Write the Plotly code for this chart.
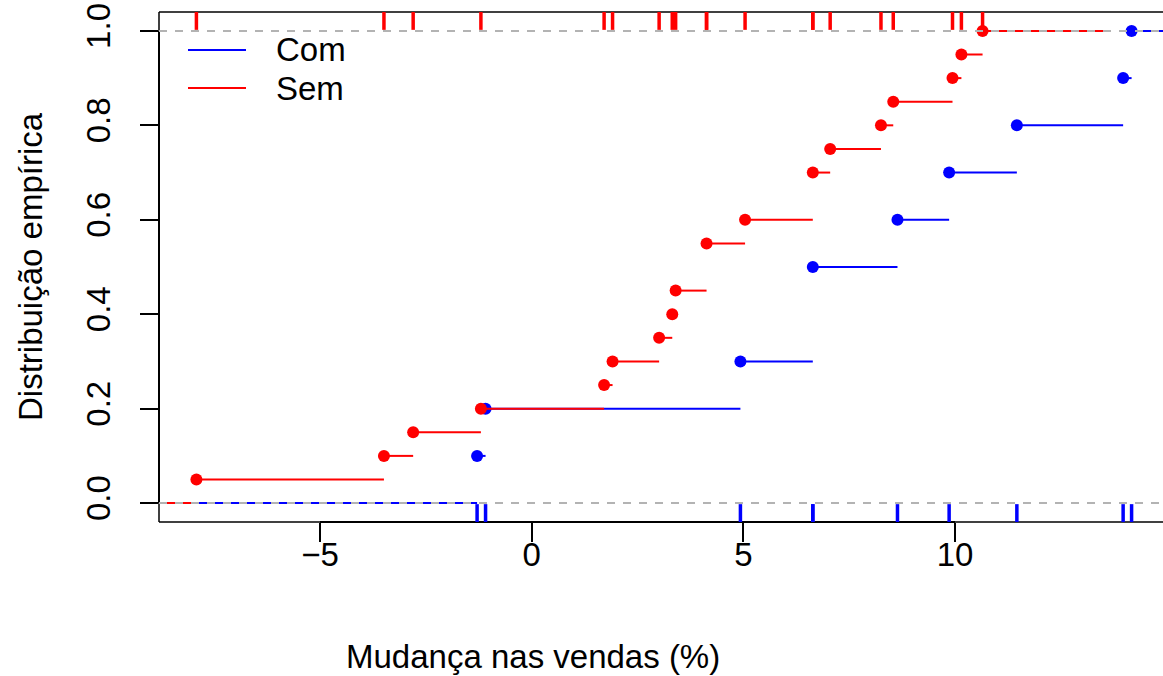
import numpy as np
import plotly.graph_objects as go

# ---------------- data ----------------
com = [-1.29, -1.09, 4.93, 6.64, 6.64, 8.64, 9.86, 11.46, 13.97, 14.17]
sem = [-7.92, -3.49, -2.80, -1.20, 1.71, 1.91, 3.01, 3.32, 3.40, 4.13, 4.13,
       5.04, 6.64, 6.64, 7.05, 8.25, 8.54, 9.94, 10.15, 10.65]
series_names = ["Com", "Sem"]
series_colors = ["blue", "red"]
x_ticks = [-5, 0, 5, 10]
x_ticklabels = ["\u22125", "0", "5", "10"]
y_ticks = [0.0, 0.2, 0.4, 0.6, 0.8, 1.0]
y_ticklabels = ["0.0", "0.2", "0.4", "0.6", "0.8", "1.0"]
x_title = "Mudança nas vendas (%)"
y_title = "Distribuição empírica"

FONT = "Liberation Sans, Arial, sans-serif"
FS = 33


def ecdf(v):
    v = np.sort(np.asarray(v, float))
    u, counts = np.unique(v, return_counts=True)
    return u, np.cumsum(counts) / len(v)


def step_xy(u, F, lo, hi):
    knots = [lo] + list(u) + [hi]
    levels = [0.0] + list(F)
    xs, ys = [], []
    for i, lev in enumerate(levels):
        xs += [knots[i], knots[i + 1], None]
        ys += [lev, lev, None]
    return xs, ys


# main plot xlim = range of all data
allv = np.array(com + sem)
xlim_main = [allv.min(), allv.max()]
d_main = xlim_main[1] - xlim_main[0]
usr = [xlim_main[0] - 0.04 * d_main, xlim_main[1] + 0.04 * d_main]

# blue: explicit xlim -> segments extend by diff(xlim)
u_c, F_c = ecdf(com)
lo_c, hi_c = xlim_main[0] - d_main, xlim_main[1] + d_main
# red: added with the default xlim rule of a step function plot
u_s, F_s = ecdf(sem)
rx = [u_s.min(), u_s.max()]
dr = max(0.08 * (rx[1] - rx[0]), float(np.median(np.diff(u_s))))
lo_s, hi_s = rx[0] - 2 * dr, rx[1] + 2 * dr

W, H = 1163, 676
L, R, T, B = 159, 0, 12, 154
plot_w_full = 1010  # plot region continues a few px past the canvas
x_range = [usr[0], usr[0] + (usr[1] - usr[0]) * (W - L) / plot_w_full]
y_range = [-0.04, 1.04]
PH = H - T - B
PW = W - L - R

fig = go.Figure()

for (u, F), (lo, hi), name, col in [
    ((u_c, F_c), (lo_c, hi_c), series_names[0], series_colors[0]),
    ((u_s, F_s), (lo_s, hi_s), series_names[1], series_colors[1]),
]:
    xs, ys = step_xy(u, F, lo, hi)
    fig.add_trace(go.Scatter(x=xs, y=ys, mode="lines", name=name,
                             line=dict(color=col, width=2), showlegend=False,
                             hoverinfo="skip"))
    fig.add_trace(go.Scatter(x=u, y=F, mode="markers", showlegend=False, name=name,
                             marker=dict(color=col, size=12)))

# 0/1 reference lines (gray70, dashed)
for yv in (0, 1):
    fig.add_trace(go.Scatter(x=[x_range[0], x_range[1]], y=[yv, yv], mode="lines",
                             showlegend=False, hoverinfo="skip",
                             line=dict(color="#B3B3B3", width=2, dash="8px,8px")))

# rugs
tick = 0.035 * (y_range[1] - y_range[0])
for vals, col, side in [(com, series_colors[0], 1), (sem, series_colors[1], 3)]:
    xs, ys = [], []
    for v in vals:
        if side == 1:
            xs += [v, v, None]; ys += [y_range[0], y_range[0] + tick, None]
        else:
            xs += [v, v, None]; ys += [y_range[1], y_range[1] - tick, None]
    fig.add_trace(go.Scatter(x=xs, y=ys, mode="lines", showlegend=False,
                             hoverinfo="skip", cliponaxis=False,
                             line=dict(color=col, width=3.5)))

shapes = [
    # box
    dict(type="line", xref="paper", yref="paper", x0=0, x1=1, y0=1, y1=1,
         line=dict(color="black", width=1.5), layer="below"),
    dict(type="line", xref="paper", yref="paper", x0=0, x1=0, y0=0, y1=1,
         line=dict(color="black", width=1.5), layer="below"),
    dict(type="line", xref="paper", yref="paper", x0=0, x1=1, y0=0, y1=0,
         line=dict(color="black", width=1.5), layer="below"),
    # axis lines (first to last tick)
    dict(type="line", xref="x", yref="paper", x0=x_ticks[0], x1=x_ticks[-1], y0=0, y1=0,
         line=dict(color="black", width=2), layer="below"),
    dict(type="line", xref="paper", yref="y", x0=0, x1=0, y0=y_ticks[0], y1=y_ticks[-1],
         line=dict(color="black", width=2), layer="below"),
]

annotations = [
    dict(text=x_title, xref="paper", yref="paper", x=(533 - L) / PW, y=0,
         yshift=-(656 - (H - B)), showarrow=False, xanchor="center", yanchor="middle",
         font=dict(family=FONT, size=FS, color="black")),
    dict(text=y_title, xref="paper", yref="paper", x=0, y=(H - B - 267) / PH,
         xshift=-(L - 30), showarrow=False, xanchor="center", yanchor="middle",
         textangle=-90, font=dict(family=FONT, size=FS, color="black")),
]

# legend (no box): line samples + labels
legend_rows = [50, 88]
for name, col, yp in zip(series_names, series_colors, legend_rows):
    yf = (H - B - yp) / PH
    shapes.append(dict(type="line", xref="paper", yref="paper",
                       x0=(188 - L) / PW, x1=(246 - L) / PW, y0=yf, y1=yf,
                       line=dict(color=col, width=2), layer="above"))
    annotations.append(dict(text=name, xref="paper", yref="paper",
                            x=(274 - L) / PW, y=yf, showarrow=False,
                            xanchor="left", yanchor="middle",
                            font=dict(family=FONT, size=FS, color="black")))

fig.update_layout(
    width=W, height=H,
    margin=dict(l=L, r=R, t=T, b=B, pad=0, autoexpand=False),
    paper_bgcolor="white", plot_bgcolor="white",
    shapes=shapes, annotations=annotations,
    showlegend=False,
    xaxis=dict(range=x_range, showgrid=False, zeroline=False, showline=False,
               automargin=False,
               tickmode="array", tickvals=x_ticks, ticktext=x_ticklabels,
               ticks="outside", ticklen=19, tickwidth=2, tickcolor="black",
               tickfont=dict(family=FONT, size=FS, color="black"),
               ticklabelstandoff=-16),
    yaxis=dict(range=y_range, showgrid=False, zeroline=False, showline=False,
               automargin=False,
               tickmode="array", tickvals=y_ticks, ticktext=y_ticklabels,
               ticks="outside", ticklen=18, tickwidth=2, tickcolor="black",
               tickangle=-90,
               tickfont=dict(family=FONT, size=FS, color="black"),
               ticklabelstandoff=17),
)

fig.write_html(
    "out.html",
    config={"displayModeBar": False},
    post_script="document.body.style.margin='0';document.body.style.overflow='hidden';",
)
